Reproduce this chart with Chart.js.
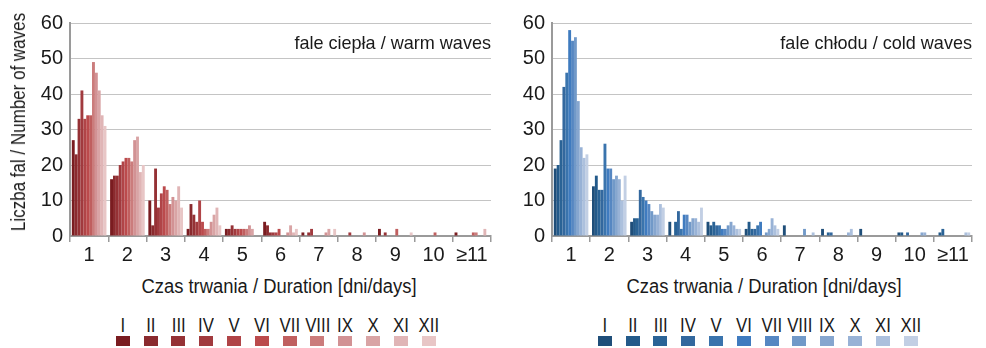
<!DOCTYPE html>
<html>
<head>
<meta charset="utf-8">
<script src="https://cdn.jsdelivr.net/npm/chart.js@4"></script>
<style>
  body { margin: 0; background: #fff; width: 986px; height: 348px; overflow: hidden; position: relative;
         font-family: 'Liberation Sans Narrow', 'Arial Narrow', 'Liberation Sans', sans-serif; color: #1a1a1a; }
  canvas { position: absolute; top: 0; }
  #c-heat { left: 0; }
  #c-cold { left: 480px; }
  .txt { position: absolute; font-size: 20px; white-space: nowrap; line-height: 1; }
  .ytitle { left: 18px; top: 122px; transform: translate(-50%, -50%) rotate(-90deg) scaleX(0.85); }
  .xtitle { top: 276px; transform: translateX(-50%) scaleX(0.92); }
  .panel { top: 33px; transform-origin: right center; transform: translateX(-100%) scaleX(0.95); font-size: 19px; }
  .legend { position: absolute; top: 314px; display: flex; }
  .legend div { width: 27.8px; display: flex; flex-direction: column; align-items: center; font-size: 21px; line-height: 1; }
  .legend b { font-weight: normal; display: block; transform: scaleX(0.8); }
  .legend span { display: block; width: 14px; height: 10px; margin-top: 1px; }
</style>
</head>
<body>
<canvas id="c-heat" width="495" height="262"></canvas>
<canvas id="c-cold" width="496" height="262"></canvas>

<div class="txt ytitle">Liczba fal / Number of waves</div>
<div class="txt panel" style="left:491px">fale ciepła / warm waves</div>
<div class="txt panel" style="left:972px">fale chłodu / cold waves</div>
<div class="txt xtitle" style="left:279px">Czas trwania / Duration [dni/days]</div>
<div class="txt xtitle" style="left:764px">Czas trwania / Duration [dni/days]</div>
<div class="legend" id="leg-heat" style="left:109px"></div>
<div class="legend" id="leg-cold" style="left:591px"></div>

<script>
// ── Dane ──
const czasTrwania = ["1", "2", "3", "4", "5", "6", "7", "8", "9", "10", "≥11"];
const miesiace = ["I", "II", "III", "IV", "V", "VI", "VII", "VIII", "IX", "X", "XI", "XII"];
const yTicks = [0, 10, 20, 30, 40, 50, 60];

// liczba fal ciepła: wiersz = czas trwania, kolumna = miesiąc I..XII
const faleCiepla = [
  [27, 23, 33, 41, 33, 34, 34, 49, 46, 41, 34, 31],
  [16, 17, 17, 20, 21, 22, 22, 21, 27, 28, 18, 20],
  [10,  3, 19,  8, 12, 14, 13,  9, 11, 10, 14,  8],
  [ 2,  9,  6,  4, 10,  4,  2,  2,  4,  6,  8,  3],
  [ 2,  2,  3,  2,  2,  2,  2,  2,  3,  2,  0,  0],
  [ 4,  3,  1,  1,  1,  2,  0,  0,  1,  3,  1,  2],
  [ 1,  0,  1,  2,  0,  0,  0,  0,  1,  2,  0,  2],
  [ 0,  0,  0,  1,  0,  0,  0,  0,  1,  0,  0,  0],
  [ 2,  0,  1,  0,  0,  0,  2,  0,  0,  0,  0,  1],
  [ 0,  0,  0,  0,  0,  0,  1,  0,  0,  0,  0,  0],
  [ 1,  0,  0,  0,  0,  0,  1,  1,  0,  0,  2,  0],
];

// liczba fal chłodu
const faleChlodu = [
  [19, 20, 27, 42, 46, 58, 55, 56, 38, 25, 22, 23],
  [14, 17, 13, 13, 26, 19, 19, 16, 17, 16, 10, 17],
  [ 4,  5,  5, 13, 11, 10,  9,  7,  6,  6,  9,  8],
  [ 4,  0,  4,  7,  2,  6,  6,  4,  5,  5,  4,  8],
  [ 4,  3,  4,  3,  3,  2,  2,  3,  4,  3,  2,  2],
  [ 2,  4,  2,  2,  3,  4,  0,  1,  2,  5,  3,  2],
  [ 3,  0,  0,  0,  0,  0,  0,  2,  0,  0,  1,  0],
  [ 2,  0,  1,  1,  0,  0,  0,  0,  0,  1,  2,  0],
  [ 2,  0,  0,  0,  0,  0,  0,  0,  0,  0,  0,  0],
  [ 1,  1,  0,  1,  0,  0,  0,  0,  1,  1,  0,  0],
  [ 0,  1,  2,  0,  0,  0,  0,  0,  0,  0,  1,  1],
];

// ── Cores por mês ──
const coresCiepla = ["#7a1c20", "#8a2a2e", "#953135", "#a13a3e", "#b04447", "#bb4a4c",
                     "#c05f5f", "#cb7c7c", "#d29294", "#d9a4a5", "#e0b5b6", "#e8c6c6"];
const coresChlodu = ["#1f4e79", "#235a8a", "#2a6396", "#33689e", "#3a74ad", "#3f7bbf",
                     "#5687c2", "#7199c8", "#86a6cf", "#98b2d6", "#acc0dd", "#c2cfe4"];

const FONTE = "'Liberation Sans Narrow', 'Arial Narrow', 'Liberation Sans', sans-serif";
Chart.defaults.font.family = FONTE;
Chart.defaults.color = "#1a1a1a";

function montarGrafico(id, tabela, cores, larguraEixoY) {
  // transpõe: um dataset por mês
  const datasets = miesiace.map((m, i) => ({
    label: m,
    data: tabela.map(linha => linha[i]),
    backgroundColor: cores[i],
    borderWidth: 0,
    categoryPercentage: 0.905,
    barPercentage: 1.0,
  }));

  return new Chart(document.getElementById(id), {
    type: "bar",
    data: { labels: czasTrwania, datasets },
    options: {
      responsive: false,
      animation: false,
      layout: { padding: { top: 23, right: 4, bottom: 0, left: 0 } },
      plugins: { legend: { display: false }, tooltip: { enabled: false } },
      scales: {
        x: {
          offset: true,
          grid: { display: true, offset: true, drawOnChartArea: false, drawTicks: true,
                  tickLength: 6, color: "#9a9a9a", lineWidth: 1.5 },
          border: { color: "#9a9a9a", width: 2 },
          ticks: { font: { size: 20 }, padding: 1, maxRotation: 0, autoSkip: false },
          afterFit: s => { s.height = 26; },
        },
        y: {
          min: 0, max: 60,
          afterBuildTicks: s => { s.ticks = yTicks.map(v => ({ value: v })); },
          grid: { color: "#c4c4c4", lineWidth: 1, drawTicks: false },
          border: { color: "#9a9a9a", width: 2 },
          ticks: { font: { size: 20 }, padding: 7 },
          afterFit: s => { s.width = larguraEixoY; },
        },
      },
    },
    plugins: [{
      // linhas de grade pontilhadas
      id: "gradePontilhada",
      beforeDraw: chart => {
        chart.options.scales.y.grid.borderDash = [2, 2];
      }
    }],
  });
}

function montarLegenda(id, cores) {
  const el = document.getElementById(id);
  miesiace.forEach((m, i) => {
    const item = document.createElement("div");
    item.innerHTML = `<b>${m}</b><span style="background:${cores[i]}"></span>`;
    el.appendChild(item);
  });
}

montarGrafico("c-heat", faleCiepla, coresCiepla, 70);
montarGrafico("c-cold", faleChlodu, coresChlodu, 72);
montarLegenda("leg-heat", coresCiepla);
montarLegenda("leg-cold", coresChlodu);
</script>
</body>
</html>
